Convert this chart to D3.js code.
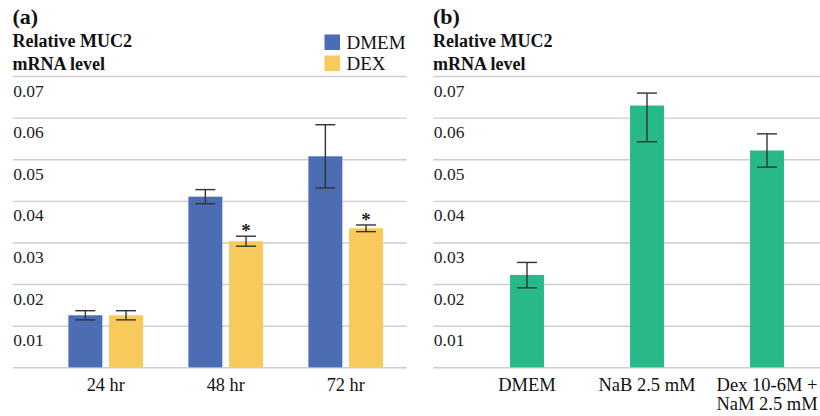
<!DOCTYPE html>
<html>
<head>
<meta charset="utf-8">
<script src="https://cdn.jsdelivr.net/npm/d3@7"></script>
<style>
  html, body { margin: 0; padding: 0; background: #fff; }
  svg { display: block; font-family: "Liberation Serif", "Times New Roman", serif; }
</style>
</head>
<body>
<svg id="chart" width="820" height="416"></svg>
<script>
// ---- Panel (a): MUC2 expression over time, DMEM vs DEX ----
const timeGroups = ["24 hr", "48 hr", "72 hr"];
const seriesNames = ["DMEM", "DEX"];
const dmemValues = [0.0125, 0.0410, 0.0507];
const dmemErrors = [0.0011, 0.0017, 0.0076];
const dexValues = [0.0125, 0.0303, 0.0334];
const dexErrors = [0.0011, 0.0012, 0.0008];
const dexSignificant = [false, true, true];

// ---- Panel (b): MUC2 expression by treatment ----
const treatmentLabels = [["DMEM"], ["NaB 2.5 mM"], ["Dex 10-6M +", "NaM 2.5 mM"]];
const treatmentValues = [0.0222, 0.0629, 0.0521];
const treatmentErrUp = [0.0030, 0.0030, 0.0040];
const treatmentErrDown = [0.0031, 0.0087, 0.0040];

// ---- Shared axis ticks ----
const yTicks = [0, 0.01, 0.02, 0.03, 0.04, 0.05, 0.06, 0.07];

const colors = { DMEM: "#4a6db3", DEX: "#f8c95b", treat: "#28b98b" };
const gridColor = "#cdcdcd";
const errColor = "#333333";

const svg = d3.select("#chart");

const y = d3.scaleLinear().domain([0, 0.07]).range([367.3, 76]);

function drawGrid(g, x0, width) {
  const axis = d3.axisLeft(y)
    .tickValues(yTicks)
    .tickSize(-width)
    .tickFormat(v => v === 0 ? "" : d3.format(".2f")(v));
  const ax = g.append("g").attr("transform", `translate(${x0},0)`).call(axis);
  ax.select(".domain").remove();
  ax.selectAll(".tick line").attr("stroke", gridColor).attr("stroke-width", 1.4);
  ax.selectAll(".tick text")
    .attr("x", 0.5).attr("y", 20).attr("dy", 0)
    .attr("text-anchor", "start")
    .attr("fill", "#222")
    .style("font-size", "17.5px")
    .style("font-family", "'Liberation Serif', serif");
}

function drawHeader(g, x0, tag) {
  g.append("text").attr("x", x0).attr("y", 24)
    .attr("font-weight", "bold").attr("font-size", 22).attr("fill", "#111").text(tag);
  g.append("text").attr("x", x0).attr("y", 47)
    .attr("font-weight", "bold").attr("font-size", 18).attr("fill", "#111").text("Relative MUC2");
  g.append("text").attr("x", x0).attr("y", 70)
    .attr("font-weight", "bold").attr("font-size", 18).attr("fill", "#111").text("mRNA level");
}

function errorBar(g, cx, hi, lo) {
  const cap = 10;
  g.append("line").attr("x1", cx).attr("x2", cx).attr("y1", y(hi)).attr("y2", y(lo))
    .attr("stroke", errColor).attr("stroke-width", 1.4);
  [hi, lo].forEach(v => {
    g.append("line").attr("x1", cx - cap).attr("x2", cx + cap).attr("y1", y(v)).attr("y2", y(v))
      .attr("stroke", errColor).attr("stroke-width", 1.4);
  });
}

// ================= Panel (a) =================
const ga = svg.append("g");
drawHeader(ga, 12.5, "(a)");
drawGrid(ga, 12.7, 394);

const x0a = d3.scaleBand().domain(timeGroups).range([45.7, 405.7]).padding(0);
const x1a = d3.scaleBand().domain(seriesNames).range([0, x0a.bandwidth()])
  .paddingInner(0.165).paddingOuter(0.557);

const seriesData = {
  DMEM: { values: dmemValues, errors: dmemErrors },
  DEX: { values: dexValues, errors: dexErrors }
};

seriesNames.forEach(s => {
  const d = seriesData[s];
  timeGroups.forEach((t, i) => {
    const xb = x0a(t) + x1a(s);
    ga.append("rect")
      .attr("x", xb).attr("y", y(d.values[i]))
      .attr("width", x1a.bandwidth()).attr("height", y(0) - y(d.values[i]))
      .attr("fill", colors[s]);
  });
});

seriesNames.forEach(s => {
  const d = seriesData[s];
  timeGroups.forEach((t, i) => {
    const cx = x0a(t) + x1a(s) + x1a.bandwidth() / 2;
    errorBar(ga, cx, d.values[i] + d.errors[i], d.values[i] - d.errors[i]);
    if (s === "DEX" && dexSignificant[i]) {
      ga.append("text").attr("x", cx).attr("y", y(d.values[i] + d.errors[i]) + 1)
        .attr("text-anchor", "middle").attr("font-size", 19).attr("font-weight", "bold")
        .attr("fill", "#222").text("*");
    }
  });
});

ga.selectAll(".cat").data(timeGroups).join("text")
  .attr("x", d => x0a(d) + x0a.bandwidth() / 2).attr("y", 391)
  .attr("text-anchor", "middle").attr("font-size", 18.3).attr("fill", "#111").text(d => d);

// legend
const lg = ga.append("g");
seriesNames.forEach((s, i) => {
  lg.append("rect").attr("x", 324.5).attr("y", 34.5 + i * 21).attr("width", 15.5).attr("height", 15.5)
    .attr("fill", colors[s]);
  lg.append("text").attr("x", 346.5).attr("y", 48.8 + i * 21)
    .attr("font-size", 19).attr("fill", "#111").text(s);
});

// ================= Panel (b) =================
const gb = svg.append("g");
drawHeader(gb, 433, "(b)");
drawGrid(gb, 433.3, 387);

const treatKeys = treatmentLabels.map(l => l.join(" "));
const xb = d3.scaleBand().domain(treatKeys).range([467, 827])
  .paddingInner(0.717).paddingOuter(0.3585);

treatKeys.forEach((k, i) => {
  gb.append("rect")
    .attr("x", xb(k)).attr("y", y(treatmentValues[i]))
    .attr("width", xb.bandwidth()).attr("height", y(0) - y(treatmentValues[i]))
    .attr("fill", colors.treat);
});
treatKeys.forEach((k, i) => {
  const cx = xb(k) + xb.bandwidth() / 2;
  errorBar(gb, cx, treatmentValues[i] + treatmentErrUp[i], treatmentValues[i] - treatmentErrDown[i]);
});

treatKeys.forEach((k, i) => {
  const t = gb.append("text")
    .attr("x", xb(k) + xb.bandwidth() / 2).attr("y", 391)
    .attr("text-anchor", "middle").attr("font-size", 18.5).attr("fill", "#111");
  treatmentLabels[i].forEach((line, j) => {
    t.append("tspan").attr("x", xb(k) + xb.bandwidth() / 2).attr("dy", j === 0 ? 0 : 18.5).text(line);
  });
});
</script>
</body>
</html>
